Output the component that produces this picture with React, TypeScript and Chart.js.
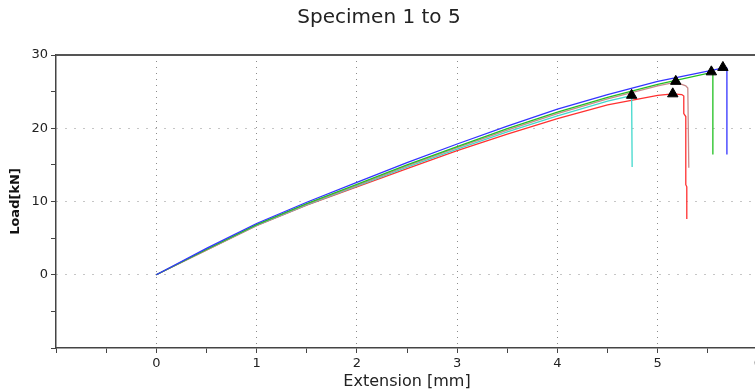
import React, { useEffect, useRef } from "react";
import { Chart, registerables } from "chart.js";

Chart.register(...registerables);

const titleText = "Specimen 1 to 5";
const xTitle = "Extension [mm]";
const yTitle = "Load[kN]";

// Specimen curves: [extension mm, load kN]
const blueCurve: [number, number][] = [
  [0, 0], [0.5, 3.6], [1, 7.0], [1.5, 9.9], [2, 12.6], [2.5, 15.3], [3, 17.85],
  [3.5, 20.3], [4, 22.6], [4.5, 24.6], [5, 26.4], [5.5, 27.8], [5.68, 28.3],
  [5.69, 28.2], [5.69, 16.4],
];
const greenCurve: [number, number][] = [
  [0, 0], [0.5, 3.45], [1, 6.85], [1.5, 9.7], [2, 12.35], [2.5, 15.0], [3, 17.5],
  [3.5, 19.95], [4, 22.2], [4.5, 24.2], [5, 26.0], [5.53, 27.6], [5.55, 27.5],
  [5.55, 16.4],
];
const brownCurve: [number, number][] = [
  [0, 0], [0.5, 3.4], [1, 6.8], [1.5, 9.6], [2, 12.2], [2.5, 14.85], [3, 17.35],
  [3.5, 19.75], [4, 22.0], [4.5, 24.0], [5, 25.8], [5.18, 26.3], [5.28, 25.8],
  [5.3, 25.5], [5.31, 14.6],
];
const cyanCurve: [number, number][] = [
  [0, 0], [0.5, 3.4], [1, 6.75], [1.5, 9.55], [2, 12.1], [2.5, 14.7], [3, 17.15],
  [3.5, 19.5], [4, 21.7], [4.5, 23.7], [4.74, 24.45], [4.745, 14.7],
];
const redCurve: [number, number][] = [
  [0, 0], [0.5, 3.35], [1, 6.7], [1.5, 9.5], [2, 12.0], [2.5, 14.5], [3, 16.95],
  [3.5, 19.2], [4, 21.3], [4.5, 23.2], [5, 24.5], [5.15, 24.7], [5.24, 24.6],
  [5.26, 24.4], [5.26, 22.0], [5.28, 21.6], [5.28, 12.3], [5.29, 12.0], [5.29, 7.6],
];
// Break (max load) markers
const markerX = [5.65, 5.535, 5.18, 4.74, 5.15];
const markerY = [28.3, 27.7, 26.4, 24.5, 24.7];

const xMin = -1;
const xMax = 6;
const yMin = -10;
const yMax = 30;

const toPts = (arr: [number, number][]) => arr.map(([x, y]) => ({ x, y }));

const topBorder = {
  id: "topBorder",
  afterDraw(chart: any) {
    const { ctx, chartArea } = chart;
    ctx.save();
    ctx.strokeStyle = "#555";
    ctx.lineWidth = 2;
    ctx.beginPath();
    ctx.moveTo(chartArea.left, chartArea.top);
    ctx.lineTo(chart.width, chartArea.top);
    ctx.stroke();
    ctx.restore();
  },
};

export default function App() {
  const ref = useRef<HTMLCanvasElement>(null);

  useEffect(() => {
    if (!ref.current) return;
    const lineDs = (label: string, data: [number, number][], color: string) => ({
      type: "line" as const,
      label,
      data: toPts(data),
      borderColor: color,
      backgroundColor: color,
      borderWidth: 1.3,
      pointRadius: 0,
      tension: 0,
      fill: false,
      order: 1,
    });
    const chart = new Chart(ref.current, {
      type: "line",
      data: {
        datasets: [
          {
            type: "scatter" as const,
            label: "Break",
            data: markerX.map((x, i) => ({ x, y: markerY[i] })),
            pointStyle: "triangle",
            pointRadius: 6,
            backgroundColor: "#000",
            borderColor: "#000",
            borderWidth: 1,
            order: 0,
          } as any,
          lineDs("Specimen 1", blueCurve, "#3434ff"),
          lineDs("Specimen 2", greenCurve, "#22c022"),
          lineDs("Specimen 3", brownCurve, "#c88a8a"),
          lineDs("Specimen 4", cyanCurve, "#40d8cc"),
          lineDs("Specimen 5", redCurve, "#ff3030"),
        ],
      },
      options: {
        responsive: false,
        animation: false,
        devicePixelRatio: 1,
        layout: { padding: { left: 0, right: 12, top: 0, bottom: 0 } },
        plugins: {
          legend: { display: false },
          tooltip: { enabled: false },
          title: {
            display: true,
            text: titleText,
            color: "#222",
            font: { family: "DejaVu Sans", size: 20, weight: "normal" },
            padding: { top: 6, bottom: 25 },
          },
        },
        scales: {
          x: {
            type: "linear",
            min: xMin,
            max: xMax,
            afterFit: (s: any) => {
              s.height = 43;
            },
            ticks: {
              stepSize: 0.5,
              autoSkip: false,
              maxRotation: 0,
              padding: 3,
              color: "#222",
              font: { family: "DejaVu Sans", size: 13 },
              callback: (v: any) => {
                const n = Number(v);
                return Number.isInteger(n) && n >= 0 ? String(n) : "";
              },
            },
            grid: {
              color: (ctx: any) => {
                const v = ctx.tick ? ctx.tick.value : NaN;
                return Number.isInteger(v) && v >= 0 && v <= 5 ? "#8c8c8c" : "transparent";
              },
              tickColor: "#444",
              tickLength: 5,
              lineWidth: 1,
            },
            border: { display: true, color: "#444", width: 1.5, dash: [1, 5] },
            title: {
              display: true,
              text: xTitle,
              color: "#222",
              font: { family: "DejaVu Sans", size: 16 },
              padding: { top: 0, bottom: 0 },
            },
          },
          y: {
            type: "linear",
            min: yMin,
            max: yMax,
            afterFit: (s: any) => {
              s.width = 56;
            },
            ticks: {
              stepSize: 5,
              autoSkip: false,
              padding: 3,
              color: "#222",
              font: { family: "DejaVu Sans", size: 13 },
              callback: (v: any) => {
                const n = Number(v);
                return n % 10 === 0 && n >= 0 ? String(n) : "";
              },
            },
            grid: {
              color: (ctx: any) => {
                const v = ctx.tick ? ctx.tick.value : NaN;
                return v === 0 || v === 10 || v === 20 ? "#8c8c8c" : "transparent";
              },
              tickColor: "#444",
              tickLength: 5,
              lineWidth: 1,
            },
            border: { display: true, color: "#444", width: 1.5, dash: [1, 8] },
            title: {
              display: true,
              text: yTitle,
              color: "#111",
              font: { family: "DejaVu Sans", size: 13, weight: "bold" },
              padding: { top: 8, bottom: 0 },
            },
          },
        },
      },
      plugins: [topBorder],
    });
    return () => chart.destroy();
  }, []);

  return (
    <div
      style={{
        position: "fixed",
        left: 0,
        top: 0,
        width: 755,
        height: 391,
        overflow: "hidden",
        background: "#fff",
      }}
    >
      <canvas ref={ref} width={770} height={391} style={{ display: "block" }} />
    </div>
  );
}
